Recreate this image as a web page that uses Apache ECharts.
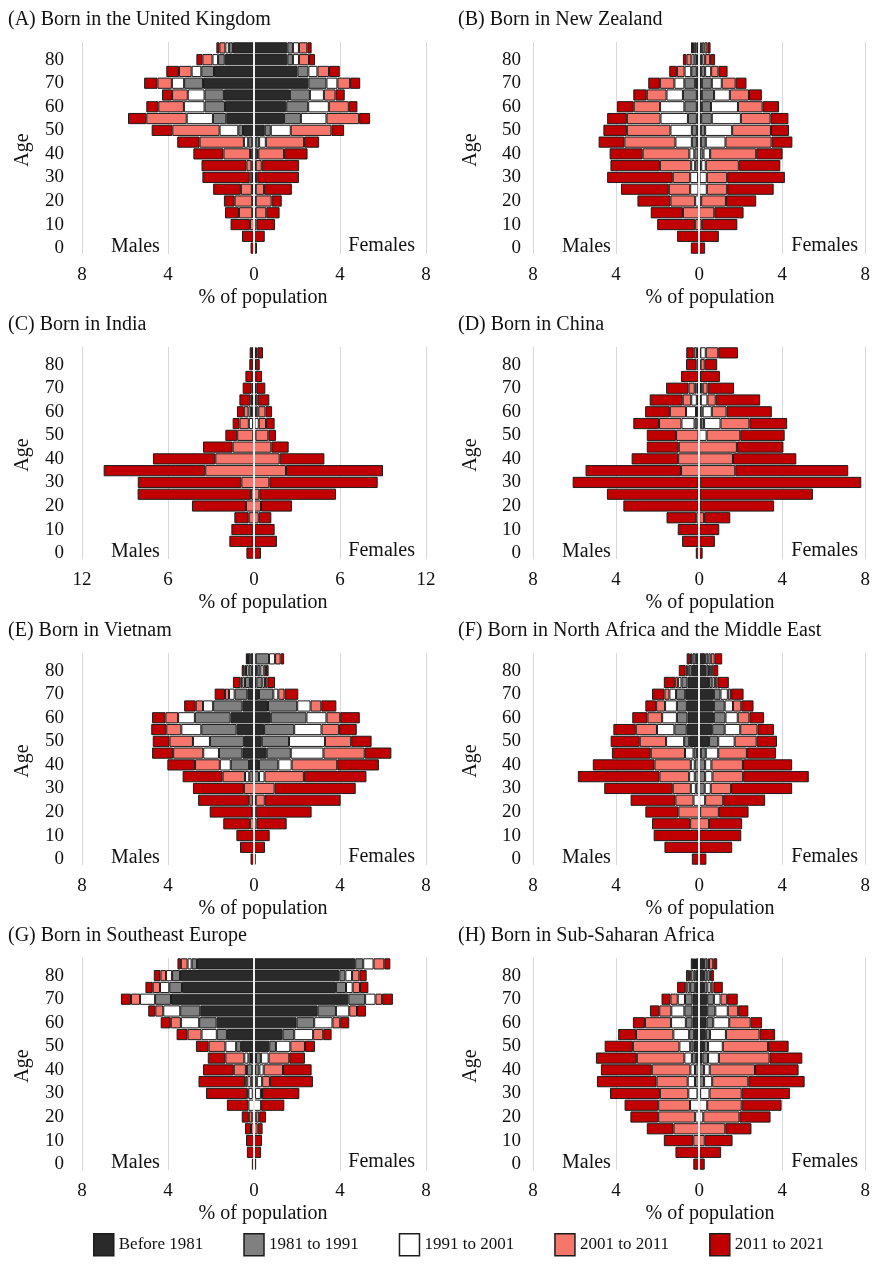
<!DOCTYPE html>
<html>
<head>
<meta charset="utf-8">
<script src="https://cdn.jsdelivr.net/npm/echarts@6/dist/echarts.min.js"></script>
<style>
  html, body { margin: 0; padding: 0; background: #ffffff; }
  #chart { width: 873px; height: 1275px; }
</style>
</head>
<body>
<div id="chart"></div>
<script>
// Age groups, listed from the oldest (top row) to the youngest (bottom row)
const ageStarts = ['85', '80', '75', '70', '65', '60', '55', '50', '45', '40', '35', '30', '25', '20', '15', '10', '5', '0'];

// Period of arrival, from the inner segment of each bar to the outer one
const periods = ['Before 1981', '1981 to 1991', '1991 to 2001', '2001 to 2011', '2011 to 2021'];
const periodColors = ['#2a2a2a', '#808080', '#ffffff', '#f6766c', '#c00000'];

// % of population by age group; one row per period (same order as `periods`)
// (A) United Kingdom
const ukMales = [
  [0.98, 1.36, 1.86, 2.37, 1.40, 1.35, 1.29, 0.51, 0.08, 0.03, 0, 0, 0, 0, 0, 0, 0, 0],
  [0.19, 0.31, 0.59, 0.88, 0.90, 0.95, 0.62, 0.22, 0.19, 0.10, 0.06, 0.04, 0.05, 0.03, 0.03, 0, 0, 0],
  [0.16, 0.26, 0.45, 0.57, 0.78, 0.96, 1.22, 0.87, 0.20, 0.05, 0.06, 0.04, 0.05, 0.05, 0.05, 0, 0, 0],
  [0.28, 0.47, 0.59, 0.67, 0.73, 1.19, 1.88, 2.20, 2.06, 1.24, 0.23, 0.12, 0.51, 0.82, 0.62, 0.19, 0.02, 0],
  [0.14, 0.28, 0.59, 0.62, 0.47, 0.56, 0.85, 0.96, 1.04, 1.40, 2.09, 2.20, 1.29, 0.50, 0.65, 0.90, 0.54, 0.16]
];
const ukFemales = [
  [1.55, 1.55, 2.02, 2.53, 1.67, 1.50, 1.40, 0.50, 0.08, 0.03, 0, 0, 0, 0, 0, 0, 0, 0],
  [0.26, 0.26, 0.51, 0.84, 0.93, 1.02, 0.78, 0.28, 0.16, 0.12, 0.04, 0.04, 0.03, 0.03, 0.03, 0, 0, 0],
  [0.28, 0.28, 0.42, 0.51, 0.65, 0.96, 1.19, 0.93, 0.31, 0.05, 0.04, 0.03, 0.05, 0.05, 0.04, 0, 0, 0],
  [0.39, 0.47, 0.54, 0.59, 0.54, 0.93, 1.52, 1.89, 1.78, 1.20, 0.28, 0.08, 0.39, 0.74, 0.50, 0.11, 0, 0],
  [0.20, 0.28, 0.50, 0.47, 0.43, 0.40, 0.51, 0.59, 0.70, 1.09, 1.74, 1.94, 1.29, 0.47, 0.62, 0.87, 0.50, 0.14]
];

// (B) New Zealand
const nzMales = [
  [0.05, 0.10, 0.11, 0.19, 0.11, 0.11, 0.11, 0.11, 0.11, 0.03, 0.03, 0.02, 0, 0, 0, 0, 0, 0],
  [0.08, 0.13, 0.27, 0.52, 0.67, 0.60, 0.43, 0.24, 0.24, 0.20, 0.16, 0.03, 0.03, 0, 0, 0, 0, 0],
  [0.08, 0.14, 0.32, 0.48, 0.79, 1.17, 1.32, 1.03, 0.79, 0.24, 0.19, 0.38, 0.40, 0.19, 0, 0, 0, 0],
  [0.08, 0.24, 0.37, 0.70, 0.95, 1.27, 1.62, 2.10, 2.46, 2.25, 1.51, 0.84, 1.03, 1.19, 0.78, 0.19, 0, 0],
  [0.10, 0.17, 0.37, 0.56, 0.65, 0.81, 0.95, 1.13, 1.24, 1.59, 2.38, 3.16, 2.30, 1.59, 1.55, 1.83, 1.06, 0.40]
];
const nzFemales = [
  [0.05, 0.08, 0.10, 0.13, 0.13, 0.13, 0.10, 0.08, 0.08, 0.03, 0.02, 0, 0, 0, 0, 0, 0, 0],
  [0.08, 0.08, 0.19, 0.48, 0.59, 0.44, 0.51, 0.21, 0.24, 0.18, 0.08, 0.02, 0, 0, 0, 0, 0, 0],
  [0.12, 0.13, 0.29, 0.48, 0.76, 1.30, 1.40, 1.30, 0.95, 0.32, 0.22, 0.35, 0.37, 0.10, 0, 0, 0, 0],
  [0.15, 0.24, 0.35, 0.67, 0.92, 1.19, 1.43, 1.87, 2.22, 2.22, 1.59, 0.98, 0.98, 1.19, 0.73, 0.13, 0, 0],
  [0.15, 0.24, 0.44, 0.52, 0.62, 0.79, 0.86, 0.87, 1.00, 1.27, 2.00, 2.78, 2.24, 1.46, 1.41, 1.71, 0.95, 0.29]
];

// (C) India
const inMales = [
  [0.03, 0, 0, 0.02, 0.05, 0.12, 0.03, 0, 0, 0, 0, 0, 0, 0, 0, 0, 0, 0],
  [0.03, 0.02, 0.02, 0.02, 0.05, 0.08, 0.03, 0, 0, 0, 0, 0, 0, 0, 0, 0, 0, 0],
  [0.02, 0.02, 0.02, 0.05, 0.05, 0.18, 0.30, 0.05, 0, 0, 0, 0, 0, 0, 0, 0, 0, 0],
  [0.05, 0.04, 0.05, 0.08, 0.10, 0.33, 0.65, 1.12, 1.49, 2.70, 3.40, 0.88, 0.20, 0.56, 0.37, 0.05, 0.03, 0],
  [0.17, 0.25, 0.51, 0.62, 0.77, 0.48, 0.48, 0.83, 2.07, 4.35, 7.09, 7.23, 7.92, 3.77, 1.00, 1.53, 1.69, 0.53]
];
const inFemales = [
  [0.05, 0.02, 0, 0.02, 0.03, 0.10, 0, 0, 0, 0, 0, 0, 0, 0, 0, 0, 0, 0],
  [0.05, 0.02, 0.02, 0.02, 0.03, 0.05, 0.03, 0, 0, 0, 0, 0, 0, 0, 0, 0, 0, 0],
  [0.05, 0.03, 0.02, 0.05, 0.05, 0.15, 0.30, 0.10, 0, 0, 0, 0, 0, 0, 0, 0, 0, 0],
  [0.10, 0.05, 0.05, 0.08, 0.15, 0.50, 0.51, 0.90, 1.21, 1.79, 2.23, 1.07, 0.37, 0.49, 0.33, 0.05, 0.03, 0],
  [0.38, 0.28, 0.47, 0.62, 0.81, 0.46, 0.60, 0.53, 1.21, 3.12, 6.77, 7.56, 5.35, 2.16, 0.88, 1.39, 1.57, 0.49]
];

// (D) China
const cnMales = [
  [0.03, 0.01, 0, 0.05, 0.05, 0.05, 0.08, 0, 0, 0, 0, 0, 0, 0, 0, 0, 0, 0],
  [0.05, 0.01, 0, 0.08, 0.06, 0.10, 0.14, 0, 0, 0, 0, 0, 0, 0, 0, 0, 0, 0],
  [0.03, 0.01, 0, 0.08, 0.27, 0.48, 0.63, 0.03, 0, 0, 0, 0, 0, 0, 0, 0, 0, 0],
  [0.15, 0.10, 0.04, 0.30, 0.41, 0.78, 1.08, 1.08, 0.98, 1.01, 0.87, 0.03, 0.02, 0.02, 0.14, 0, 0, 0],
  [0.36, 0.50, 0.83, 1.08, 1.59, 1.19, 1.24, 1.41, 1.54, 2.24, 4.60, 6.06, 4.42, 3.63, 1.43, 1.03, 0.82, 0.16]
];
const cnFemales = [
  [0.03, 0, 0, 0.05, 0.03, 0.05, 0.08, 0, 0, 0, 0, 0, 0, 0, 0, 0, 0, 0],
  [0.03, 0.02, 0, 0.05, 0.05, 0.12, 0.16, 0, 0, 0, 0, 0, 0, 0, 0, 0, 0, 0],
  [0.26, 0.05, 0, 0.07, 0.32, 0.44, 0.79, 0.36, 0, 0, 0, 0, 0, 0, 0, 0, 0, 0],
  [0.60, 0.20, 0.04, 0.24, 0.40, 0.71, 1.39, 1.62, 1.82, 1.63, 1.74, 0.03, 0.02, 0.02, 0.24, 0, 0, 0],
  [0.95, 0.60, 0.96, 1.27, 2.14, 2.18, 1.82, 2.14, 2.24, 3.05, 5.44, 7.78, 5.46, 3.59, 1.26, 0.97, 0.76, 0.17]
];

// (E) Vietnam
const vnMales = [
  [0.15, 0.10, 0.19, 0.31, 0.54, 1.09, 0.81, 0.47, 0.54, 0.23, 0.03, 0, 0, 0, 0, 0, 0, 0],
  [0.10, 0.15, 0.23, 0.59, 1.36, 1.66, 1.64, 1.58, 1.09, 0.85, 0.19, 0, 0.03, 0, 0, 0, 0, 0],
  [0.03, 0.12, 0.12, 0.26, 0.47, 0.78, 0.93, 0.79, 0.73, 0.51, 0.20, 0, 0.03, 0, 0, 0, 0, 0],
  [0.03, 0.08, 0.08, 0.19, 0.34, 0.59, 0.70, 1.09, 1.40, 1.15, 1.04, 0.47, 0.16, 0.08, 0.19, 0, 0, 0],
  [0.07, 0.12, 0.36, 0.48, 0.54, 0.62, 0.70, 0.78, 0.98, 1.29, 1.86, 2.37, 2.38, 1.98, 1.24, 0.82, 0.65, 0.16]
];
const vnFemales = [
  [0.08, 0.15, 0.11, 0.23, 0.65, 0.78, 0.47, 0.36, 0.59, 0.23, 0, 0, 0, 0, 0, 0, 0, 0],
  [0.62, 0.15, 0.28, 0.67, 1.36, 1.66, 1.40, 1.27, 1.12, 0.90, 0.23, 0, 0.03, 0, 0, 0, 0, 0],
  [0.28, 0.15, 0.12, 0.23, 0.62, 0.93, 1.27, 1.67, 1.52, 0.62, 0.26, 0, 0.05, 0, 0, 0, 0, 0],
  [0.26, 0.11, 0.11, 0.29, 0.50, 0.64, 0.82, 1.22, 1.92, 2.12, 1.83, 0.96, 0.42, 0.08, 0.12, 0, 0, 0],
  [0.16, 0.12, 0.36, 0.64, 0.70, 0.91, 0.82, 0.95, 1.24, 1.94, 2.91, 3.77, 3.53, 2.60, 1.40, 0.73, 0.51, 0.08]
];

// (F) North Africa and the Middle East
const meMales = [
  [0.16, 0.35, 0.56, 0.67, 0.59, 0.56, 0.60, 0.48, 0.11, 0, 0, 0, 0, 0, 0, 0, 0, 0],
  [0.16, 0.16, 0.29, 0.44, 0.48, 0.51, 0.59, 0.24, 0.16, 0.21, 0.21, 0.16, 0, 0, 0, 0, 0, 0],
  [0.08, 0.06, 0.16, 0.32, 0.57, 0.71, 0.84, 0.87, 0.41, 0.19, 0.27, 0.24, 0.27, 0, 0, 0, 0, 0],
  [0.05, 0.08, 0.14, 0.24, 0.43, 0.71, 1.02, 1.27, 1.65, 1.75, 1.43, 0.87, 0.87, 1.00, 0.43, 0.05, 0, 0],
  [0.15, 0.33, 0.55, 0.60, 0.52, 0.73, 1.08, 1.40, 1.87, 2.97, 3.93, 3.30, 2.16, 1.59, 1.84, 2.14, 1.67, 0.35]
];
const meFemales = [
  [0.29, 0.35, 0.48, 0.71, 0.71, 0.71, 0.63, 0.48, 0.08, 0, 0, 0, 0, 0, 0, 0, 0, 0],
  [0.16, 0.13, 0.16, 0.32, 0.52, 0.56, 0.60, 0.44, 0.24, 0.29, 0.29, 0.27, 0, 0, 0, 0, 0, 0],
  [0.11, 0.10, 0.13, 0.35, 0.40, 0.59, 0.75, 0.79, 0.60, 0.30, 0.35, 0.29, 0.29, 0.05, 0, 0, 0, 0],
  [0.19, 0.10, 0.11, 0.16, 0.40, 0.56, 0.83, 1.06, 1.38, 1.52, 1.48, 0.98, 0.87, 0.90, 0.48, 0, 0, 0],
  [0.36, 0.24, 0.55, 0.60, 0.59, 0.71, 0.79, 0.98, 1.40, 2.37, 3.16, 2.94, 2.02, 1.43, 1.59, 2.03, 1.59, 0.35]
];

// (G) Southeast Europe
const seMales = [
  [2.65, 3.44, 3.35, 3.86, 2.50, 1.74, 1.26, 0.60, 0.14, 0.08, 0.03, 0, 0, 0, 0, 0, 0, 0],
  [0.25, 0.37, 0.59, 0.74, 0.93, 0.81, 0.47, 0.23, 0.12, 0.25, 0.12, 0.06, 0, 0, 0, 0, 0, 0],
  [0.19, 0.28, 0.43, 0.70, 0.79, 0.85, 0.71, 0.50, 0.19, 0.05, 0.16, 0.20, 0.26, 0.08, 0, 0, 0, 0],
  [0.31, 0.26, 0.34, 0.42, 0.37, 0.47, 0.65, 0.78, 0.88, 0.56, 0.10, 0.05, 0, 0.16, 0.14, 0, 0, 0],
  [0.16, 0.31, 0.34, 0.47, 0.33, 0.47, 0.51, 0.59, 0.82, 1.43, 2.17, 1.92, 1.00, 0.33, 0.28, 0.37, 0.33, 0.10]
];
const seFemales = [
  [4.71, 3.97, 3.81, 4.39, 2.96, 1.98, 1.33, 0.71, 0.09, 0.05, 0.03, 0, 0, 0, 0, 0, 0, 0],
  [0.37, 0.28, 0.47, 0.78, 0.85, 0.82, 0.54, 0.31, 0.23, 0.20, 0.10, 0.05, 0, 0, 0, 0, 0, 0],
  [0.48, 0.31, 0.31, 0.48, 0.62, 0.85, 0.88, 0.67, 0.36, 0.20, 0.25, 0.27, 0.33, 0.08, 0, 0, 0, 0],
  [0.50, 0.34, 0.34, 0.31, 0.36, 0.36, 0.47, 0.68, 0.96, 0.90, 0.36, 0.05, 0, 0.16, 0.17, 0, 0, 0],
  [0.28, 0.34, 0.39, 0.50, 0.42, 0.42, 0.39, 0.47, 0.73, 1.33, 2.00, 1.74, 1.08, 0.32, 0.23, 0.37, 0.33, 0.10]
];

// (H) Sub-Saharan Africa
const ssMales = [
  [0.15, 0.16, 0.19, 0.32, 0.32, 0.32, 0.24, 0.27, 0.16, 0, 0, 0, 0, 0, 0, 0, 0, 0],
  [0.05, 0.11, 0.24, 0.36, 0.39, 0.32, 0.24, 0.16, 0.19, 0.20, 0.20, 0.08, 0, 0, 0, 0, 0, 0],
  [0.05, 0.13, 0.13, 0.35, 0.63, 0.71, 0.76, 0.52, 0.36, 0.22, 0.35, 0.44, 0.44, 0.19, 0, 0, 0, 0],
  [0.05, 0.08, 0.11, 0.35, 0.58, 1.26, 1.80, 2.24, 2.29, 1.86, 1.50, 1.37, 1.53, 1.78, 1.23, 0.28, 0, 0],
  [0.10, 0.15, 0.39, 0.43, 0.45, 0.58, 0.86, 1.36, 1.97, 2.45, 2.87, 2.40, 1.62, 1.34, 1.29, 1.42, 1.14, 0.28]
];
const ssFemales = [
  [0.24, 0.24, 0.24, 0.39, 0.39, 0.36, 0.32, 0.24, 0.16, 0, 0, 0, 0, 0, 0, 0, 0, 0],
  [0.16, 0.16, 0.16, 0.32, 0.39, 0.32, 0.20, 0.19, 0.27, 0.24, 0.24, 0.05, 0, 0, 0, 0, 0, 0],
  [0.08, 0.11, 0.16, 0.32, 0.60, 0.77, 0.77, 0.71, 0.52, 0.27, 0.39, 0.45, 0.39, 0.20, 0, 0, 0, 0],
  [0.20, 0.05, 0.13, 0.32, 0.50, 1.03, 1.62, 2.18, 2.44, 2.18, 1.74, 1.55, 1.66, 1.74, 1.26, 0.27, 0, 0],
  [0.19, 0.15, 0.45, 0.51, 0.49, 0.55, 0.75, 0.99, 1.58, 2.10, 2.71, 2.32, 1.92, 1.50, 1.26, 1.34, 1.06, 0.27]
];

const panelTitles = [
  '(A) Born in the United Kingdom', '(B) Born in New Zealand',
  '(C) Born in India', '(D) Born in China',
  '(E) Born in Vietnam', '(F) Born in North Africa and the Middle East',
  '(G) Born in Southeast Europe', '(H) Born in Sub-Saharan Africa'
];
const panelMales = [ukMales, nzMales, inMales, cnMales, vnMales, meMales, seMales, ssMales];
const panelFemales = [ukFemales, nzFemales, inFemales, cnFemales, vnFemales, meFemales, seFemales, ssFemales];
const panelAxisMax = [8, 8, 12, 8, 8, 8, 8, 8];
const panelAxisStep = [4, 4, 6, 4, 4, 4, 4, 4];

// Page layout
const FONT = "'Liberation Serif', 'Times New Roman', serif";
const colLeft = [82, 533];
const colWidth = [344, 336];
const colTitleX = [8, 458];
const colAgeX = [23, 471];
const colLabelMargin = [18, 12];
const rowTop = [42, 347, 653, 958];
const plotHeight = 212;

const grids = [], xAxes = [], yAxes = [], titles = [], graphics = [], series = [];

panelTitles.forEach((title, i) => {
  const col = i % 2, row = Math.floor(i / 2);
  const left = colLeft[col], top = rowTop[row], width = colWidth[col];

  grids.push({ left: left, top: top, width: width, height: plotHeight });

  xAxes.push({
    type: 'value', gridIndex: i,
    min: -panelAxisMax[i], max: panelAxisMax[i], interval: panelAxisStep[i],
    axisLine: { show: false }, axisTick: { show: false },
    splitLine: { show: true, lineStyle: { color: '#d9d9d9', width: 1 } },
    axisLabel: {
      margin: 12, color: '#111', fontSize: 19, fontFamily: FONT,
      formatter: v => String(Math.abs(v))
    }
  });

  yAxes.push({
    type: 'category', gridIndex: i, data: ageStarts, inverse: true,
    axisLine: { show: false }, axisTick: { show: false }, splitLine: { show: false },
    axisLabel: {
      margin: colLabelMargin[col], color: '#111', fontSize: 19, fontFamily: FONT,
      interval: (idx, value) => Number(value) % 10 === 0
    }
  });

  titles.push({
    text: title, left: colTitleX[col], top: top - 32, padding: 0,
    textStyle: { fontFamily: FONT, fontSize: 20, fontWeight: 'normal', color: '#111' }
  });

  const textStyle = { fill: '#111', fontSize: 20, fontFamily: FONT };
  graphics.push(
    { type: 'text', x: colAgeX[col], y: top + plotHeight / 2 + 2, rotation: Math.PI / 2,
      style: Object.assign({ text: 'Age', textAlign: 'center', textVerticalAlign: 'middle' }, textStyle) },
    { type: 'text', x: left + 29, y: top + 205,
      style: Object.assign({ text: 'Males', textAlign: 'left', textVerticalAlign: 'middle' }, textStyle) },
    { type: 'text', x: left + width - 11, y: top + 204,
      style: Object.assign({ text: 'Females', textAlign: 'right', textVerticalAlign: 'middle' }, textStyle) },
    { type: 'text', x: left + width / 2 + 9, y: top + 256,
      style: Object.assign({ text: '% of population', textAlign: 'center', textVerticalAlign: 'middle' }, textStyle) }
  );

  const barStyle = k => ({ color: periodColors[k], borderColor: '#1c1c1c', borderWidth: 1 });

  // Males drawn to the left (negative), females to the right; inner segment first
  periods.forEach((name, k) => {
    series.push({
      type: 'bar', name: name, stack: 'pyr' + i, xAxisIndex: i, yAxisIndex: i,
      barCategoryGap: '5%', itemStyle: barStyle(k),
      data: panelMales[i][k].map(v => (v ? -v : null))
    });
  });
  periods.forEach((name, k) => {
    const s = {
      type: 'bar', name: name, stack: 'pyr' + i, xAxisIndex: i, yAxisIndex: i,
      barCategoryGap: '5%', itemStyle: barStyle(k),
      data: panelFemales[i][k].map(v => (v ? v : null))
    };
    if (k === periods.length - 1) {
      // light centre line at 0 %
      s.markLine = {
        silent: true, symbol: ['none', 'none'], label: { show: false },
        lineStyle: { color: '#eeeeee', width: 2, type: 'solid' },
        data: [{ xAxis: 0 }]
      };
    }
    series.push(s);
  });
});

const chart = echarts.init(document.getElementById('chart'), null, { renderer: 'canvas' });
chart.setOption({
  animation: false,
  backgroundColor: '#ffffff',
  title: titles,
  grid: grids,
  xAxis: xAxes,
  yAxis: yAxes,
  legend: {
    data: periods, left: 88, top: 1228, icon: 'rect',
    itemWidth: 20, itemHeight: 22, itemGap: 40,
    itemStyle: { borderColor: '#1c1c1c', borderWidth: 1.5 },
    textStyle: { fontFamily: FONT, fontSize: 17, color: '#111' }
  },
  graphic: graphics,
  series: series
});
</script>
</body>
</html>
